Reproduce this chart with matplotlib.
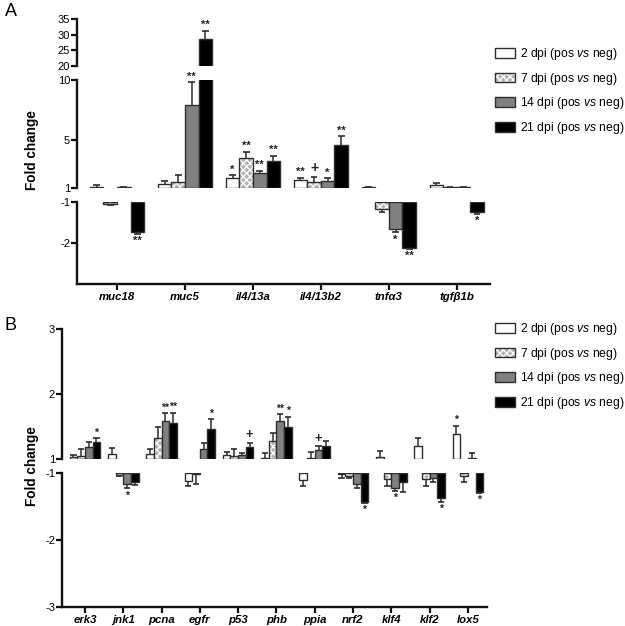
import matplotlib
matplotlib.use("Agg")
import matplotlib.pyplot as plt
from matplotlib.patches import Patch
from matplotlib.legend_handler import HandlerTuple
import numpy as np

plt.rcParams['font.family'] = ['Liberation Sans', 'DejaVu Sans']
plt.rcParams['mathtext.fontset'] = 'custom'
plt.rcParams['mathtext.rm'] = 'Liberation Sans'
plt.rcParams['mathtext.it'] = 'Liberation Sans:italic'
plt.rcParams['mathtext.bf'] = 'Liberation Sans:bold'
plt.rcParams['hatch.linewidth'] = 0.9

# ---------------- data ----------------
series_labels = [r"2 dpi (pos $\mathit{vs}$ neg)", r"7 dpi (pos $\mathit{vs}$ neg)",
                 r"14 dpi (pos $\mathit{vs}$ neg)", r"21 dpi (pos $\mathit{vs}$ neg)"]

catsA = ["muc18", "muc5", "il4/13a", "il4/13b2", "tnfα3", "tgfβ1b"]
A_2dpi = [1.10, 1.33, 1.80, 1.67, 1.06, 1.25]
A_2dpi_err = [0.12, 0.27, 0.26, 0.19, 0.05, 0.13]
A_7dpi = [-1.04, 1.50, 3.47, 1.53, -1.18, 1.05]
A_7dpi_err = [0.03, 0.55, 0.56, 0.42, 0.06, 0.02]
A_14dpi = [1.05, 7.90, 2.28, 1.61, -1.67, 1.07]
A_14dpi_err = [0.05, 1.90, 0.14, 0.22, 0.07, 0.04]
A_21dpi = [-1.73, 28.6, 3.25, 4.58, -2.11, -1.25]
A_21dpi_err = [0.04, 2.6, 0.42, 0.75, 0.04, 0.04]
sigA_2 = ["", "", "*", "**", "", ""]
sigA_7 = ["", "", "**", "+", "", ""]
sigA_14 = ["", "**", "**", "*", "*", ""]
sigA_21 = ["**", "**", "**", "**", "**", "*"]

catsB = ["erk3", "jnk1", "pcna", "egfr", "p53", "phb", "ppia", "nrf2", "klf4", "klf2", "lox5"]
B_2dpi = [1.03, 1.08, 1.08, -1.12, 1.06, 1.02, -1.10, -1.02, 1.03, 1.20, 1.38]
B_2dpi_err = [0.03, 0.09, 0.08, 0.07, 0.05, 0.08, 0.09, 0.06, 0.10, 0.12, 0.13]
B_7dpi = [1.05, -1.03, 1.33, -1.02, 1.05, 1.27, 1.02, -1.04, -1.09, -1.09, -1.05]
B_7dpi_err = [0.10, 0.02, 0.16, 0.14, 0.10, 0.13, 0.09, 0.04, 0.10, 0.11, 0.09]
B_14dpi = [1.18, -1.17, 1.58, 1.16, 1.06, 1.58, 1.14, -1.16, -1.23, -1.08, 1.02]
B_14dpi_err = [0.08, 0.06, 0.12, 0.09, 0.04, 0.11, 0.06, 0.07, 0.04, 0.05, 0.08]
B_21dpi = [1.26, -1.13, 1.55, 1.46, 1.19, 1.50, 1.20, -1.43, -1.13, -1.38, -1.28]
B_21dpi_err = [0.06, 0.05, 0.16, 0.15, 0.06, 0.15, 0.08, 0.02, 0.15, 0.05, 0.02]
sigB_2 = ["", "", "", "", "", "", "", "", "", "", "*"]
sigB_7 = ["", "", "", "", "", "", "", "", "", "", ""]
sigB_14 = ["", "*", "**", "", "", "**", "+", "", "*", "", ""]
sigB_21 = ["*", "", "**", "*", "+", "*", "", "*", "", "*", "*"]

# segments of the broken y axis: (low, high, ticks)
segA = [(20, 35, [20, 25, 30, 35]), (1, 10, [1, 5, 10]), (-3, -1, [-2, -1])]
segB = [(1, 3, [1, 2, 3]), (-3, -1, [-3, -2, -1])]

# ---------------- style ----------------
EDGE = '#2e2e2e'
FACES = ['white', '#b4b4b4', '#808080', 'black']
HATCH = [None, 'xxxxx', None, None]
W = 0.2

fig = plt.figure(figsize=(6.25, 6.26), dpi=100)
FW, FH = 625.0, 626.0


def ax_at(x0, x1, ytop, ybot):
    return fig.add_axes([x0 / FW, 1 - ybot / FH, (x1 - x0) / FW, (ybot - ytop) / FH])


def draw_panel(axes, segs, cats, vals, errs, sigs, xlim, capw, sigsize):
    n = len(cats)
    x = np.arange(n)
    for ax, (lo, hi, ticks) in zip(axes, segs):
        ax.set_xlim(*xlim)
        ax.set_ylim(lo, hi)
        ax.set_yticks(ticks)
        ax.set_yticklabels([str(t) for t in ticks])
        for s in ['top', 'right', 'bottom']:
            ax.spines[s].set_visible(False)
        ax.spines['left'].set_linewidth(1.7)
        ax.spines['left'].set_color('#111111')
        ax.tick_params(axis='y', direction='out', length=4, width=1.6, labelsize=8, pad=1,
                       color='#111111')
        ax.tick_params(axis='x', bottom=False, labelbottom=False)
        ax.patch.set_alpha(0)
    bottom_ax = axes[-1]
    bottom_ax.spines['bottom'].set_visible(True)
    bottom_ax.spines['bottom'].set_linewidth(1.7)
    bottom_ax.spines['bottom'].set_color('#111111')
    bottom_ax.tick_params(axis='x', bottom=True, labelbottom=True, length=4, width=1.6,
                          color='#111111', pad=2)
    bottom_ax.set_xticks(x)
    bottom_ax.set_xticklabels(cats, fontsize=8.2, fontweight='bold', fontstyle='italic')

    for si in range(4):
        xs = x + (si - 1.5) * W
        for xi, v, e, sg in zip(xs, vals[si], errs[si], sigs[si]):
            if v > 0:
                base, h, tip = 1, v - 1, v + e
                targets = [a for a, s in zip(axes, segs) if s[1] > 1]
            else:
                base, h, tip = -1, v + 1, v - e
                targets = [a for a, s in zip(axes, segs) if s[1] <= -1]
            for ax in targets:
                if HATCH[si]:
                    ax.bar(xi, h, W, bottom=base, color=FACES[si], edgecolor='white',
                           hatch=HATCH[si], linewidth=0)
                    ax.bar(xi, h, W, bottom=base, fill=False, edgecolor=EDGE, linewidth=1)
                else:
                    ax.bar(xi, h, W, bottom=base, facecolor=FACES[si], edgecolor=EDGE,
                           linewidth=1)
                ax.vlines(xi, v, tip, color=EDGE, linewidth=1.1)
                ax.hlines(tip, xi - capw, xi + capw, color=EDGE, linewidth=1.2)
            if sg:
                for ax, (lo, hi, _) in zip(axes, segs):
                    if lo <= tip <= hi:
                        fs = sigsize * (1.25 if sg == '+' else 1.0)
                        if v > 0:
                            ax.annotate(sg, (xi, tip), xytext=(0, 0.5 if sg != '+' else 1),
                                        textcoords='offset points', ha='center', va='bottom',
                                        fontsize=fs, fontweight='bold', color='#222222',
                                        annotation_clip=False)
                        else:
                            ax.annotate(sg, (xi, tip), xytext=(0, -1.5 if sg != '+' else -1),
                                        textcoords='offset points', ha='center', va='top',
                                        fontsize=fs, fontweight='bold', color='#222222',
                                        annotation_clip=False)
                        break


def legend_handles():
    hs = []
    for si in range(4):
        if HATCH[si]:
            hs.append((Patch(facecolor=FACES[si], edgecolor='white', hatch=HATCH[si], linewidth=0),
                       Patch(fill=False, edgecolor=EDGE, linewidth=1)))
        else:
            hs.append(Patch(facecolor=FACES[si], edgecolor=EDGE, linewidth=1))
    return hs


# ---------------- panel A ----------------
axA = [ax_at(77, 490, 19, 66), ax_at(77, 490, 80, 188), ax_at(77, 490, 202, 284)]
draw_panel(axA, segA, catsA, [A_2dpi, A_7dpi, A_14dpi, A_21dpi],
           [A_2dpi_err, A_7dpi_err, A_14dpi_err, A_21dpi_err],
           [sigA_2, sigA_7, sigA_14, sigA_21], (-0.59, 5.49), 0.05, 8)

# ---------------- panel B ----------------
axB = [ax_at(62, 487, 329, 459), ax_at(62, 487, 473, 607)]
draw_panel(axB, segB, catsB, [B_2dpi, B_7dpi, B_14dpi, B_21dpi],
           [B_2dpi_err, B_7dpi_err, B_14dpi_err, B_21dpi_err],
           [sigB_2, sigB_7, sigB_14, sigB_21], (-0.6, 10.5), 0.08, 7.5)

for ytop in (46, 321):
    fig.legend(legend_handles(), series_labels, loc='upper left',
               bbox_to_anchor=(495 / FW, 1 - ytop / FH), frameon=False, fontsize=8.7,
               borderpad=0, borderaxespad=0, handlelength=1.65, handleheight=0.85,
               handletextpad=0.45, labelspacing=0.72,
               handler_map={tuple: HandlerTuple(ndivide=1)})

fig.text(32 / FW, 1 - 150 / FH, "Fold change", rotation=90, ha='center', va='center',
         fontsize=9.8, fontweight='bold')
fig.text(32 / FW, 1 - 466 / FH, "Fold change", rotation=90, ha='center', va='center',
         fontsize=9.8, fontweight='bold')
fig.text(5 / FW, 1 - 11 / FH, "A", ha='left', va='center', fontsize=13)
fig.text(5 / FW, 1 - 325 / FH, "B", ha='left', va='center', fontsize=13)

fig.savefig("out.png", dpi=100)
